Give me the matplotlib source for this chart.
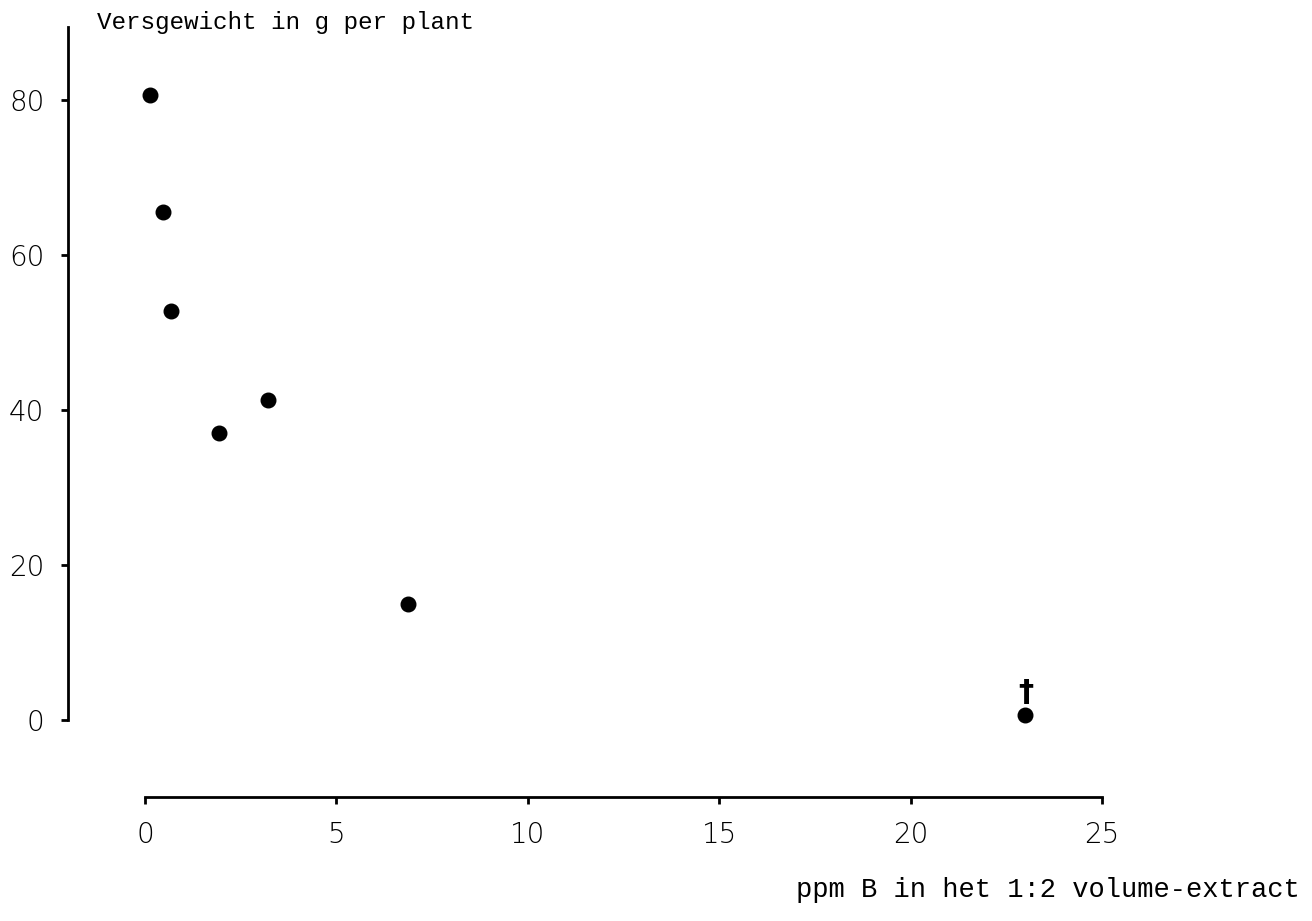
import matplotlib.pyplot as plt

# data
ppm_b = [0.13, 0.47, 0.68, 1.93, 3.21, 6.87, 23.0]
versgewicht = [80.6, 65.5, 52.8, 37.0, 41.3, 15.0, 0.7]
dagger_x = 23.0
dagger_y = 3.6

x_ticks = [0, 5, 10, 15, 20, 25]
y_ticks = [0, 20, 40, 60, 80]

W, H = 1312, 921
fig = plt.figure(figsize=(W / 100, H / 100), dpi=100)
# axes box: left spine at px 68, bottom spine at px 797, x=25 at px 1102, top at px 27
ax = fig.add_axes([68 / W, (H - 797) / H, (1102 - 68) / W, (797 - 27) / H])

ax.scatter(ppm_b, versgewicht, s=110, color="black", zorder=3)
ax.text(dagger_x, dagger_y, "\u2020", fontsize=22, fontweight="bold",
        ha="center", va="center", color="black")

ax.set_xlim(-2.01, 25)
ax.set_ylim(-9.94, 89.4)

for s in ["top", "right"]:
    ax.spines[s].set_visible(False)
ax.spines["left"].set_bounds(0, 89.4)
ax.spines["bottom"].set_bounds(0, 25)
ax.spines["left"].set_linewidth(2)
ax.spines["bottom"].set_linewidth(2)

ax.set_xticks(x_ticks)
ax.set_yticks(y_ticks)
ax.tick_params(axis="both", direction="out", length=5, width=2, labelsize=20)
ax.tick_params(axis="y", pad=12)
ax.tick_params(axis="x", pad=12)
for lab in ax.get_xticklabels() + ax.get_yticklabels():
    lab.set_fontweight("light")

fig.text(97 / W, 1 - 22 / H, "Versgewicht in g per plant", family="Liberation Mono",
         fontsize=17.5, ha="left", va="center")
fig.text(1300 / W, 1 - 890 / H, "ppm B in het 1:2 volume-extract", family="Liberation Mono",
         fontsize=19.5, ha="right", va="center")

fig.savefig("out.png", dpi=100)
